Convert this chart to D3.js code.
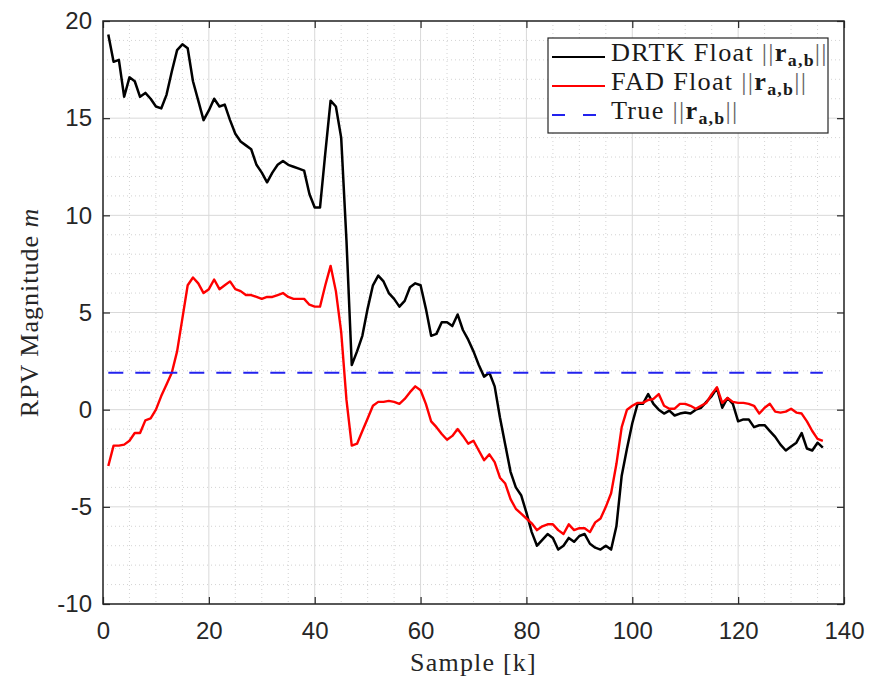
<!DOCTYPE html>
<html>
<head>
<meta charset="utf-8">
<script src="https://cdn.jsdelivr.net/npm/d3@7"></script>
<style>
  html, body { margin: 0; padding: 0; background: #ffffff; }
  svg { display: block; }
</style>
</head>
<body>
<svg id="chart" width="872" height="686"></svg>
<script>
// Sample index k = 1 .. 136
const samples = d3.range(1, 137);

// DRTK float baseline magnitude per sample
const drtkFloat = [
  19.3, 17.9, 18.0, 16.1, 17.1, 16.9, 16.1, 16.3, 16.0, 15.6,
  15.5, 16.2, 17.4, 18.5, 18.8, 18.6, 16.9, 15.9, 14.9, 15.4,
  16.0, 15.6, 15.7, 14.9, 14.2, 13.8, 13.6, 13.4, 12.6, 12.2,
  11.7, 12.2, 12.6, 12.8, 12.6, 12.5, 12.4, 12.3, 11.1, 10.4,
  10.4, 13.2, 15.9, 15.6, 14.0, 8.7, 2.3, 3.0, 3.8, 5.2,
  6.4, 6.9, 6.6, 6.0, 5.7, 5.3, 5.6, 6.3, 6.5, 6.4,
  5.2, 3.8, 3.9, 4.5, 4.5, 4.3, 4.9, 4.1, 3.6, 3.0,
  2.3, 1.7, 1.9, 1.2, -0.4, -1.8, -3.2, -4.0, -4.4, -5.3,
  -6.3, -7.0, -6.7, -6.4, -6.6, -7.2, -7.0, -6.6, -6.8, -6.5,
  -6.4, -6.9, -7.1, -7.2, -7.0, -7.2, -6.0, -3.4, -2.0, -0.7,
  0.3, 0.3, 0.8, 0.3, 0.0, -0.2, -0.05, -0.3, -0.2, -0.15,
  -0.2, 0.0, 0.1, 0.4, 0.7, 1.1, 0.1, 0.6, 0.3, -0.6,
  -0.5, -0.5, -0.9, -0.8, -0.8, -1.1, -1.4, -1.8, -2.1, -1.9,
  -1.7, -1.2, -2.0, -2.1, -1.7, -1.95
];

// FAD float baseline magnitude per sample
const fadFloat = [
  -2.9, -1.85, -1.85, -1.8, -1.6, -1.2, -1.2, -0.55, -0.45, 0.0,
  0.7, 1.3, 1.9, 3.0, 4.7, 6.4, 6.8, 6.5, 6.0, 6.2,
  6.7, 6.2, 6.4, 6.6, 6.2, 6.1, 5.9, 5.9, 5.8, 5.7,
  5.8, 5.8, 5.9, 6.0, 5.8, 5.7, 5.7, 5.7, 5.4, 5.3,
  5.3, 6.4, 7.4, 6.1, 4.0, 0.5, -1.85, -1.75, -1.1, -0.45,
  0.2, 0.4, 0.4, 0.45, 0.4, 0.3, 0.55, 0.9, 1.2, 1.0,
  0.3, -0.6, -0.9, -1.25, -1.55, -1.35, -1.0, -1.35, -1.75, -1.6,
  -2.1, -2.6, -2.3, -2.7, -3.5, -3.8, -4.6, -5.1, -5.35, -5.6,
  -5.85, -6.2, -6.0, -5.9, -5.9, -6.2, -6.4, -5.9, -6.2, -6.1,
  -6.1, -6.3, -5.8, -5.6, -5.0, -4.3, -2.8, -0.9, 0.0, 0.2,
  0.35, 0.35, 0.5, 0.55, 0.8, 0.2, 0.05, 0.05, 0.3, 0.3,
  0.2, 0.05, 0.2, 0.35, 0.8, 1.15, 0.35, 0.6, 0.4, 0.35,
  0.35, 0.3, 0.2, -0.2, 0.1, 0.3, -0.1, -0.15, -0.1, 0.05,
  -0.15, -0.2, -0.6, -1.1, -1.5, -1.6
];

// True baseline magnitude (constant)
const trueMagnitude = 1.9;

const xTicks = [0, 20, 40, 60, 80, 100, 120, 140];
const yTicks = [-10, -5, 0, 5, 10, 15, 20];
const xMinorTicks = d3.range(0, 141, 5);
const yMinorTicks = d3.range(-10, 21, 1);

const legendLabels = ["DRTK Float", "FAD Float", "True"];

// ---- layout ----
const svg = d3.select("#chart");
const plotL = 103, plotR = 844, plotT = 21, plotB = 604;

const x = d3.scaleLinear().domain([0, 140]).range([plotL, plotR]);
const y = d3.scaleLinear().domain([-10, 20]).range([plotB, plotT]);

const serif = "'Liberation Serif', 'DejaVu Serif', serif";
const sans = "'Liberation Sans', Arial, Helvetica, sans-serif";

// plot background
svg.append("rect").attr("x", plotL).attr("y", plotT)
  .attr("width", plotR - plotL).attr("height", plotB - plotT)
  .attr("fill", "#ffffff");

// minor grid (dotted)
const grid = svg.append("g");
grid.selectAll(".xminor").data(xMinorTicks.filter(d => d % 20 !== 0)).join("line")
  .attr("x1", d => x(d)).attr("x2", d => x(d))
  .attr("y1", plotT).attr("y2", plotB)
  .attr("stroke", "#c8c8c8").attr("stroke-width", 0.8)
  .attr("stroke-dasharray", "1,3");
grid.selectAll(".yminor").data(yMinorTicks.filter(d => d % 5 !== 0)).join("line")
  .attr("x1", plotL).attr("x2", plotR)
  .attr("y1", d => y(d)).attr("y2", d => y(d))
  .attr("stroke", "#c8c8c8").attr("stroke-width", 0.8)
  .attr("stroke-dasharray", "1,3");

// major grid (solid)
grid.selectAll(".xmajor").data(xTicks).join("line")
  .attr("x1", d => x(d)).attr("x2", d => x(d))
  .attr("y1", plotT).attr("y2", plotB)
  .attr("stroke", "#d9d9d9").attr("stroke-width", 1);
grid.selectAll(".ymajor").data(yTicks).join("line")
  .attr("x1", plotL).attr("x2", plotR)
  .attr("y1", d => y(d)).attr("y2", d => y(d))
  .attr("stroke", "#d9d9d9").attr("stroke-width", 1);

// series
const line = d3.line().x(d => x(d[0])).y(d => y(d[1]));

svg.append("path")
  .datum(samples.map((k, i) => [k, drtkFloat[i]]))
  .attr("d", line).attr("fill", "none")
  .attr("stroke", "#000000").attr("stroke-width", 2.5)
  .attr("stroke-linejoin", "round");

svg.append("path")
  .datum(samples.map((k, i) => [k, fadFloat[i]]))
  .attr("d", line).attr("fill", "none")
  .attr("stroke", "#ff0000").attr("stroke-width", 2.4)
  .attr("stroke-linejoin", "round");

svg.append("path")
  .datum([[samples[0], trueMagnitude], [samples[samples.length - 1], trueMagnitude]])
  .attr("d", line).attr("fill", "none")
  .attr("stroke", "#2222ee").attr("stroke-width", 2.2)
  .attr("stroke-dasharray", "15,12");

// axes with inward ticks on all four sides
const tickLen = 7;
const plain = d => String(d);
const xAxisB = d3.axisBottom(x).tickValues(xTicks).tickFormat(plain)
  .tickSizeInner(-tickLen).tickSizeOuter(0).tickPadding(18);
const xAxisT = d3.axisTop(x).tickValues(xTicks).tickFormat("")
  .tickSizeInner(-tickLen).tickSizeOuter(0);
const yAxisL = d3.axisLeft(y).tickValues(yTicks).tickFormat(plain)
  .tickSizeInner(-tickLen).tickSizeOuter(0).tickPadding(11);
const yAxisR = d3.axisRight(y).tickValues(yTicks).tickFormat("")
  .tickSizeInner(-tickLen).tickSizeOuter(0);

function styleAxis(g) {
  g.select(".domain").remove();
  g.selectAll(".tick line").attr("stroke", "#262626").attr("stroke-width", 1.2);
  g.selectAll("text").attr("fill", "#262626")
    .style("font-family", sans).style("font-size", "24px");
}

svg.append("g").attr("transform", `translate(0,${plotB})`).call(xAxisB).call(styleAxis);
svg.append("g").attr("transform", `translate(0,${plotT})`).call(xAxisT).call(styleAxis);
svg.append("g").attr("transform", `translate(${plotL},0)`).call(yAxisL).call(styleAxis);
svg.append("g").attr("transform", `translate(${plotR},0)`).call(yAxisR).call(styleAxis);

// frame
svg.append("rect").attr("x", plotL).attr("y", plotT)
  .attr("width", plotR - plotL).attr("height", plotB - plotT)
  .attr("fill", "none").attr("stroke", "#262626").attr("stroke-width", 1.5);

// axis titles
svg.append("text")
  .attr("x", (plotL + plotR) / 2).attr("y", 671)
  .attr("text-anchor", "middle")
  .style("font-family", serif).style("font-size", "26px")
  .style("letter-spacing", "1.2px").attr("fill", "#262626")
  .text("Sample [k]");

const yl = svg.append("text")
  .attr("transform", `translate(38,${(plotT + plotB) / 2}) rotate(-90)`)
  .attr("text-anchor", "middle")
  .style("font-family", serif).style("font-size", "26px")
  .style("letter-spacing", "1px").attr("fill", "#262626");
yl.append("tspan").text("RPV Magnitude ");
yl.append("tspan").style("font-style", "italic").text("m");

// legend
const lg = svg.append("g");
lg.append("rect").attr("x", 548).attr("y", 38).attr("width", 280).attr("height", 95)
  .attr("fill", "#ffffff").attr("stroke", "#262626").attr("stroke-width", 1.2);

const legendStyles = [
  { color: "#000000", dash: null },
  { color: "#ff0000", dash: null },
  { color: "#2222ee", dash: "13,18" }
];

legendLabels.forEach((label, i) => {
  const cy = 57 + i * 29;
  lg.append("line").attr("x1", 552).attr("x2", 605).attr("y1", cy).attr("y2", cy)
    .attr("stroke", legendStyles[i].color).attr("stroke-width", 2.2)
    .attr("stroke-dasharray", legendStyles[i].dash);
  const t = lg.append("text")
    .attr("transform", `translate(611,${cy + 4}) scale(1.05,1)`)
    .style("font-family", serif).style("font-size", "25px")
    .style("letter-spacing", "1.2px").attr("fill", "#1a1a1a");
  t.append("tspan").text(label + " ");
  t.append("tspan").attr("fill", "#666").text("||");
  t.append("tspan").style("font-weight", "bold").text("r");
  t.append("tspan").style("font-weight", "bold").style("font-size", "17px")
    .attr("dy", 5).text("a,b");
  t.append("tspan").attr("fill", "#666").attr("dy", -5).text("||");
});
</script>
</body>
</html>
